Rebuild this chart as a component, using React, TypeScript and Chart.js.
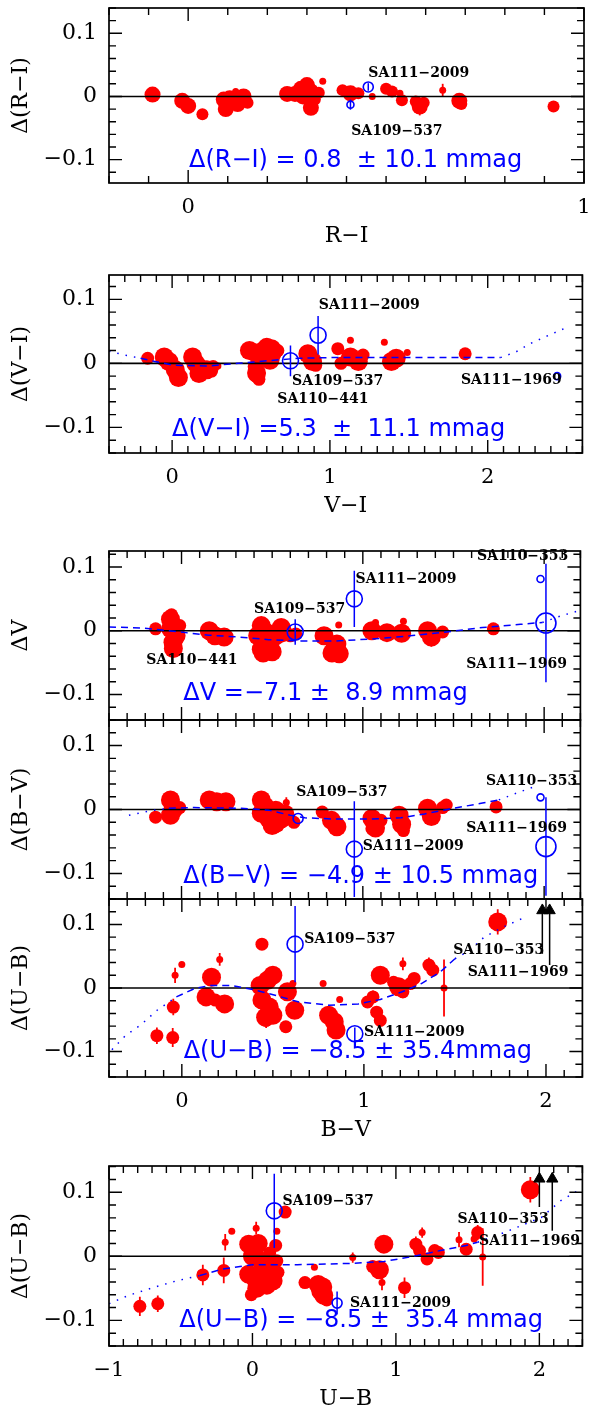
import React, { useEffect, useRef } from "react";
import { Chart, registerables } from "chart.js";

Chart.register(...registerables);

const W = 592;
const H = 1412;
const RED = "#ff0000";
const BLUE = "#0000ff";
const BLACK = "#000000";
const SERIF = "'DejaVu Serif', serif";
const SANS = "'DejaVu Sans', sans-serif";

// ---------- shared axis ticks ----------
const yTickVals = [-0.1, 0, 0.1];
const yTickLabels = ["\u22120.1", "0", "0.1"];

// ---------- Panel 1: Δ(R−I) vs R−I ----------
const riX = [-0.09, -0.015, 0.0, 0.036, 0.09, 0.095, 0.12, 0.125, 0.14, 0.15, 0.25, 0.27, 0.285, 0.3, 0.31, 0.32, 0.31, 0.33, 0.34, 0.39, 0.41, 0.43, 0.465, 0.5, 0.515, 0.535, 0.54, 0.575, 0.585, 0.595, 0.643, 0.685, 0.69, 0.923, 0.29, 0.3, 0.105];
const riY = [0.003, -0.007, -0.015, -0.028, -0.005, -0.02, 0.008, -0.012, 0.0, -0.01, 0.004, 0.004, 0.012, 0.018, 0.008, -0.005, -0.018, 0.006, 0.024, 0.01, 0.005, 0.005, 0.0, 0.012, 0.008, 0.005, -0.006, -0.008, -0.016, -0.01, 0.01, -0.007, -0.012, -0.016, 0.0, 0.01, -0.003];
const riSize = [3, 3, 3, 2, 3, 3, 1, 3, 3, 2, 3, 3, 3, 3, 3, 2, 3, 2, 1, 2, 3, 2, 1, 2, 2, 1, 2, 2, 3, 2, 1, 3, 2, 2, 3, 3, 3];
const riErr = [0, 0, 0, 0, 0, 0, 0, 0, 0, 0, 0, 0, 0, 0, 0, 0, 0, 0, 0, 0, 0, 0, 0, 0, 0, 0, 0, 0, 0.014, 0, 0.01, 0, 0, 0, 0, 0, 0];
const riStarX = [0.41, 0.455];
const riStarY = [-0.013, 0.015];
const riStarSize = [1, 2];
const riStarErr = [0.008, 0.006];
const riLabels = ["SA111\u22122009", "SA109\u2212537"];
const riLabelX = [0.455, 0.412];
const riLabelY = [0.036, -0.055];
const riStat = "\u0394(R\u2212I) = 0.8  \u00b1 10.1 mmag";

// ---------- Panel 2: Δ(V−I) vs V−I ----------
const viX = [-0.155, -0.05, -0.02, 0.02, 0.035, 0.13, 0.15, 0.18, 0.22, 0.26, 0.29, 0.49, 0.53, 0.56, 0.58, 0.63, 0.535, 0.53, 0.52, 0.65, 0.59, 0.86, 0.89, 0.91, 1.05, 1.07, 1.13, 1.13, 1.18, 1.21, 1.345, 1.39, 1.42, 1.49, 1.857, 0.6, 0.67, 0.55, 0.62, 0.04, 0.17, 0.25];
const viY = [0.008, 0.01, 0.003, -0.01, -0.016, 0.01, 0.0, -0.008, -0.01, -0.005, -0.004, 0.02, 0.016, 0.01, 0.02, 0.023, -0.015, -0.02, -0.005, 0.013, 0.012, 0.015, 0.003, -0.003, 0.023, 0.0, 0.036, 0.01, 0.003, 0.013, 0.033, 0.003, 0.008, 0.017, 0.015, 0.025, 0.02, -0.025, 0.005, -0.022, -0.016, -0.012];
const viSize = [2, 3, 3, 3, 2, 3, 3, 3, 3, 2, 1, 3, 3, 3, 3, 3, 3, 2, 2, 2, 2, 3, 3, 2, 2, 2, 1, 3, 3, 2, 1, 3, 3, 1, 2, 3, 2, 2, 3, 3, 3, 2];
const viErr = [0, 0, 0, 0, 0.01, 0, 0, 0, 0, 0, 0, 0, 0, 0, 0, 0, 0, 0, 0, 0, 0, 0, 0, 0, 0, 0, 0, 0, 0, 0, 0, 0, 0, 0, 0, 0, 0, 0, 0, 0, 0, 0];
const viStarX = [0.75, 0.925, 2.44];
const viStarY = [0.004, 0.044, -0.02];
const viStarSize = [3, 3, 1];
const viStarErr = [0.024, 0.03, 0];
const viFitLeftX = [-0.4, -0.3, -0.2];
const viFitLeftY = [0.019, 0.013, 0.008];
const viFitMidX = [-0.2, -0.11, 0.01, 0.23, 0.42, 0.6, 0.8, 1.0, 1.5, 2.08];
const viFitMidY = [0.008, 0.003, -0.003, -0.004, 0.0, 0.004, 0.008, 0.009, 0.009, 0.009];
const viFitRightX = [2.08, 2.18, 2.27, 2.37, 2.49];
const viFitRightY = [0.009, 0.018, 0.031, 0.042, 0.055];
const viLabels = ["SA111\u22122009", "SA109\u2212537", "SA110\u2212441", "SA111\u22121969"];
const viLabelX = [0.93, 0.76, 0.667, 1.83];
const viLabelY = [0.09, -0.028, -0.056, -0.026];
const viStat = "\u0394(V\u2212I) =5.3  \u00b1  11.1 mmag";

// ---------- Panel 3: ΔV vs B−V ----------
const vX = [-0.143, -0.061, -0.06, -0.03, -0.047, -0.01, 0.153, 0.184, 0.235, 0.44, 0.47, 0.44, 0.48, 0.52, 0.56, 0.6, 0.42, 0.786, 0.847, 0.857, 0.867, 1.05, 1.07, 1.133, 1.214, 1.224, 1.357, 1.378, 1.44, 1.72, 0.45, 0.5, 0.55, 0.63, 0.83, 0.87, -0.055, -0.045];
const vY = [0.003, 0.018, 0.003, -0.008, -0.018, 0.008, 0.0, -0.008, -0.01, 0.008, -0.003, -0.029, -0.023, -0.008, -0.003, -0.008, -0.008, -0.008, -0.026, -0.021, 0.009, 0.0, 0.013, -0.003, -0.004, 0.015, 0.0, -0.01, -0.002, 0.003, -0.035, -0.033, 0.005, -0.005, -0.035, -0.036, 0.025, -0.028];
const vSize = [2, 3, 3, 3, 3, 2, 3, 3, 3, 3, 3, 3, 3, 3, 3, 2, 3, 3, 3, 3, 1, 3, 1, 3, 3, 1, 3, 3, 2, 2, 3, 3, 3, 2, 3, 3, 2, 3];
const vErr = [0, 0.012, 0, 0, 0, 0, 0, 0, 0, 0, 0, 0, 0, 0, 0, 0, 0, 0, 0, 0, 0, 0, 0, 0, 0, 0, 0, 0.015, 0, 0, 0, 0, 0, 0, 0, 0, 0, 0];
const vStarX = [0.627, 0.953, 1.98, 2.01];
const vStarY = [-0.002, 0.05, 0.081, 0.012];
const vStarSize = [3, 3, 1, 4];
const vStarErr = [0.02, 0.044, 0, 0.093];
const vFitMidX = [-0.4, -0.21, -0.01, 0.15, 0.32, 0.48, 0.64, 0.85, 1.05, 1.26, 1.46, 1.66, 1.87, 1.99];
const vFitMidY = [0.006, 0.004, -0.002, -0.007, -0.01, -0.014, -0.016, -0.016, -0.013, -0.008, -0.002, 0.005, 0.01, 0.013];
const vFitRightX = [1.99, 2.09, 2.2];
const vFitRightY = [0.013, 0.023, 0.032];
const vLabels = ["SA110\u2212353", "SA111\u22122009", "SA109\u2212537", "SA110\u2212441", "SA111\u22121969"];
const vLabelX = [1.63, 0.96, 0.4, -0.194, 1.57];
const vLabelY = [0.116, 0.081, 0.034, -0.047, -0.052];
const vStat = "\u0394V =\u22127.1 \u00b1  8.9 mmag";

// ---------- Panel 4: Δ(B−V) vs B−V ----------
const bvX = [-0.143, -0.061, -0.047, -0.061, -0.01, 0.153, 0.194, 0.245, 0.44, 0.44, 0.48, 0.52, 0.52, 0.57, 0.578, 0.62, 0.776, 0.827, 0.857, 1.05, 1.07, 1.1, 1.2, 1.214, 1.224, 1.357, 1.378, 1.44, 1.46, 1.735, 0.5, 0.55, 1.05, 0.46];
const bvY = [-0.012, 0.015, -0.001, -0.009, 0.003, 0.015, 0.012, 0.012, 0.015, -0.006, -0.014, -0.022, -0.001, -0.007, 0.011, -0.02, -0.004, -0.017, -0.027, -0.014, -0.029, -0.017, -0.009, -0.023, -0.033, 0.002, -0.011, 0.003, 0.007, 0.004, -0.025, -0.015, -0.03, 0.005];
const bvSize = [2, 3, 3, 3, 2, 3, 3, 3, 3, 3, 3, 3, 3, 3, 1, 2, 2, 3, 3, 3, 3, 2, 3, 3, 2, 3, 3, 2, 2, 2, 3, 3, 2, 3];
const bvErr = [0, 0, 0, 0, 0, 0, 0, 0, 0, 0, 0, 0, 0, 0, 0.008, 0, 0, 0, 0, 0, 0, 0, 0, 0, 0.01, 0, 0, 0, 0, 0, 0, 0, 0, 0];
const bvStarX = [0.643, 0.953, 1.98, 2.01];
const bvStarY = [-0.014, -0.062, 0.019, -0.058];
const bvStarSize = [2, 3, 1, 4];
const bvStarErr = [0, 0.075, 0, 0.077];
const bvFitLeftX = [-0.29, -0.17, -0.07];
const bvFitLeftY = [-0.009, -0.002, 0.002];
const bvFitMidX = [-0.07, 0.07, 0.32, 0.48, 0.6, 0.68, 0.85, 1.05, 1.21, 1.34, 1.5, 1.66, 1.75];
const bvFitMidY = [0.002, 0.003, 0.002, -0.001, -0.009, -0.013, -0.015, -0.015, -0.013, -0.007, 0.002, 0.01, 0.015];
const bvFitRightX = [1.75, 1.87, 1.95];
const bvFitRightY = [0.015, 0.028, 0.036];
const bvLabels = ["SA109\u2212537", "SA110\u2212353", "SA111\u22121969", "SA111\u22122009"];
const bvLabelX = [0.633, 1.68, 1.57, 1.0];
const bvLabelY = [0.027, 0.044, -0.03, -0.057];
const bvStat = "\u0394(B\u2212V) = \u22124.9 \u00b1 10.5 mmag";

// ---------- Panel 5: Δ(U−B) vs B−V ----------
const ubX = [-0.047, -0.037, 0.0, -0.137, -0.05, 0.163, 0.208, 0.133, 0.184, 0.235, 0.44, 0.43, 0.47, 0.5, 0.44, 0.48, 0.46, 0.5, 0.463, 0.571, 0.58, 0.61, 0.62, 0.776, 0.806, 0.837, 0.847, 0.867, 1.02, 1.05, 1.07, 1.09, 1.09, 1.163, 1.19, 1.214, 1.214, 1.276, 1.255, 1.357, 1.378, 1.44, 1.735];
const ubY = [-0.03, 0.02, 0.037, -0.075, -0.078, 0.017, 0.045, -0.014, -0.019, -0.025, 0.069, 0.004, 0.012, 0.02, -0.019, -0.03, -0.046, -0.043, -0.051, -0.061, -0.006, 0.007, -0.035, 0.007, -0.043, -0.053, -0.066, -0.018, -0.022, -0.014, -0.038, -0.051, 0.02, 0.009, 0.002, -0.006, 0.038, 0.015, 0.007, 0.036, 0.028, 0.0, 0.104];
const ubSize = [2, 1, 1, 2, 2, 3, 1, 3, 2, 3, 2, 3, 3, 3, 3, 3, 3, 3, 2, 2, 3, 1, 3, 1, 3, 3, 3, 1, 2, 2, 2, 2, 3, 2, 3, 2, 1, 2, 2, 2, 2, 1, 3];
const ubErr = [0.013, 0.012, 0, 0.013, 0.015, 0, 0.01, 0.012, 0, 0, 0, 0, 0, 0, 0, 0, 0, 0, 0.012, 0, 0, 0, 0, 0, 0, 0, 0, 0, 0, 0.01, 0, 0, 0, 0, 0, 0.01, 0.01, 0, 0, 0.012, 0, 0.045, 0.02];
const ubStarX = [0.622, 0.95];
const ubStarY = [0.069, -0.072];
const ubStarSize = [3, 3];
const ubStarErr = [0.06, 0.01];
const ubArrowX = [1.98, 2.02];
const ubArrowTop = [0.122, 0.122];
const ubArrowBottom = [0.054, 0.036];
const ubFitLeftX = [-0.384, -0.31, -0.221, -0.136, -0.03];
const ubFitLeftY = [-0.097, -0.075, -0.057, -0.035, -0.014];
const ubFitMidX = [-0.03, 0.07, 0.153, 0.275, 0.4, 0.52, 0.643, 0.806, 0.97, 1.09, 1.21, 1.316, 1.418, 1.5];
const ubFitMidY = [-0.014, -0.001, 0.004, 0.004, -0.003, -0.012, -0.022, -0.027, -0.025, -0.018, -0.006, 0.007, 0.025, 0.046];
const ubFitRightX = [1.5, 1.58, 1.66, 1.765, 1.867];
const ubFitRightY = [0.046, 0.059, 0.08, 0.096, 0.109];
const ubLabels = ["SA109\u2212537", "SA110\u2212353", "SA111\u22121969", "SA111\u22122009"];
const ubLabelX = [0.673, 1.49, 1.57, 1.0];
const ubLabelY = [0.076, 0.059, 0.025, -0.069];
const ubStat = "\u0394(U\u2212B) = \u22128.5 \u00b1 35.4mmag";

// ---------- Panel 6: Δ(U−B) vs U−B ----------
const uuX = [-0.785, -0.66, -0.346, -0.2, -0.19, -0.144, 0.026, -0.026, 0.005, 0.026, 0.065, -0.026, 0.013, 0.052, -0.008, 0.11, 0.144, 0.178, 0.162, 0.17, 0.17, 0.228, 0.432, 0.366, 0.458, 0.476, 0.497, 0.518, 0.699, 0.838, 0.885, 0.903, 0.916, 1.06, 1.139, 1.165, 1.183, 1.217, 1.27, 1.296, 1.44, 1.49, 1.57, 1.545, 1.605, 1.937, 0.0, 0.04, 0.1, 0.03, 0.12, 0.49];
const uuY = [-0.078, -0.074, -0.029, -0.022, 0.022, 0.039, 0.044, 0.019, 0.009, -0.002, -0.009, -0.028, -0.033, -0.041, -0.06, -0.017, -0.038, -0.025, 0.017, -0.007, 0.039, 0.069, -0.017, -0.041, -0.044, -0.054, -0.061, -0.068, -0.002, -0.016, -0.021, -0.041, 0.019, -0.049, 0.019, 0.009, 0.037, -0.004, 0.009, 0.006, 0.026, 0.011, 0.037, 0.027, -0.001, 0.104, 0.0, 0.02, -0.045, -0.05, 0.005, -0.048];
const uuSize = [2, 2, 2, 2, 1, 1, 1, 3, 3, 3, 3, 3, 3, 3, 2, 3, 3, 2, 2, 2, 1, 2, 1, 2, 3, 3, 3, 2, 1, 2, 3, 1, 3, 2, 2, 2, 1, 2, 2, 2, 1, 2, 2, 1, 1, 3, 3, 3, 3, 3, 2, 3];
const uuErr = [0.015, 0.013, 0.016, 0.02, 0.013, 0, 0.01, 0, 0, 0, 0, 0, 0, 0, 0, 0, 0, 0, 0, 0, 0, 0, 0, 0, 0, 0, 0, 0, 0.008, 0, 0, 0.012, 0, 0.016, 0.012, 0, 0.008, 0, 0, 0, 0.012, 0, 0.012, 0, 0.045, 0.02, 0, 0, 0, 0, 0, 0];
const uuStarX = [0.152, 0.59];
const uuStarY = [0.071, -0.073];
const uuStarSize = [3, 2];
const uuStarErr = [0.058, 0.018];
const uuArrowX = [2.0, 2.09];
const uuArrowTop = [0.121, 0.121];
const uuArrowBottom = [0.077, 0.04];
const uuFitLeftX = [-1.0, -0.864, -0.68, -0.524, -0.366];
const uuFitLeftY = [-0.074, -0.061, -0.048, -0.038, -0.03];
const uuFitMidX = [-0.366, -0.21, 0.0, 0.314, 0.707, 0.916, 1.1, 1.31, 1.49, 1.57];
const uuFitMidY = [-0.03, -0.02, -0.013, -0.013, -0.011, -0.008, -0.001, 0.009, 0.017, 0.022];
const uuFitRightX = [1.57, 1.754, 2.016, 2.15, 2.28];
const uuFitRightY = [0.022, 0.037, 0.061, 0.087, 0.104];
const uuLabels = ["SA109\u2212537", "SA110\u2212353", "SA111\u22121969", "SA111\u22122009"];
const uuLabelX = [0.21, 1.43, 1.58, 0.68];
const uuLabelY = [0.086, 0.057, 0.024, -0.073];
const uuStat = "\u0394(U\u2212B) = \u22128.5 \u00b1  35.4 mmag";

// ---------- panel assembly ----------
type Fit = { x: number[]; y: number[]; dash: number[] };
type Panel = {
  id: string;
  top: number; bottom: number; xAxisH: number;
  xMin: number; xMax: number; yMin: number; yMax: number;
  xTicks: number[]; xTickLabels: string[]; xTitle: string; yTitle: string;
  redX: number[]; redY: number[]; redSize: number[]; redErr: number[];
  radii: number[];
  starX: number[]; starY: number[]; starSize: number[]; starErr: number[];
  arrowX: number[]; arrowTop: number[]; arrowBottom: number[];
  fits: Fit[];
  labels: string[]; labelX: number[]; labelY: number[];
  stat: string; statX: number; statY: number;
};

const DASH = [7, 5];
const DOT = [1.5, 7];
const RADII = [0, 3.5, 6.5, 9.5];
const STAR_R = [0, 3.5, 5, 8, 10];

const PANELS: Panel[] = [
  {
    id: "ri", top: 6, bottom: 183, xAxisH: 72,
    xMin: -0.2, xMax: 1.0, yMin: -0.137, yMax: 0.14,
    xTicks: [0, 1], xTickLabels: ["0", "1"], xTitle: "R\u2212I", yTitle: "\u0394(R\u2212I)",
    redX: riX, redY: riY, redSize: riSize, redErr: riErr, radii: [0, 3.5, 6, 8],
    starX: riStarX, starY: riStarY, starSize: riStarSize, starErr: riStarErr,
    arrowX: [], arrowTop: [], arrowBottom: [],
    fits: [],
    labels: riLabels, labelX: riLabelX, labelY: riLabelY,
    stat: riStat, statX: 0.002, statY: -0.1016,
  },
  {
    id: "vi", top: 275, bottom: 453, xAxisH: 72,
    xMin: -0.4, xMax: 2.6, yMin: -0.14, yMax: 0.138,
    xTicks: [0, 1, 2], xTickLabels: ["0", "1", "2"], xTitle: "V\u2212I", yTitle: "\u0394(V\u2212I)",
    redX: viX, redY: viY, redSize: viSize, redErr: viErr, radii: RADII,
    starX: viStarX, starY: viStarY, starSize: viStarSize, starErr: viStarErr,
    arrowX: [], arrowTop: [], arrowBottom: [],
    fits: [
      { x: viFitLeftX, y: viFitLeftY, dash: DOT },
      { x: viFitMidX, y: viFitMidY, dash: DASH },
      { x: viFitRightX, y: viFitRightY, dash: DOT },
    ],
    labels: viLabels, labelX: viLabelX, labelY: viLabelY,
    stat: viStat, statX: 0.0, statY: -0.103,
  },
  {
    id: "v", top: 551, bottom: 720, xAxisH: 0,
    xMin: -0.4, xMax: 2.2, yMin: -0.14, yMax: 0.125,
    xTicks: [], xTickLabels: [], xTitle: "", yTitle: "\u0394V",
    redX: vX, redY: vY, redSize: vSize, redErr: vErr, radii: RADII,
    starX: vStarX, starY: vStarY, starSize: vStarSize, starErr: vStarErr,
    arrowX: [], arrowTop: [], arrowBottom: [],
    fits: [
      { x: vFitMidX, y: vFitMidY, dash: DASH },
      { x: vFitRightX, y: vFitRightY, dash: DOT },
    ],
    labels: vLabels, labelX: vLabelX, labelY: vLabelY,
    stat: vStat, statX: 0.01, statY: -0.099,
  },
  {
    id: "bv", top: 720, bottom: 899, xAxisH: 0,
    xMin: -0.4, xMax: 2.2, yMin: -0.14, yMax: 0.14,
    xTicks: [], xTickLabels: [], xTitle: "", yTitle: "\u0394(B\u2212V)",
    redX: bvX, redY: bvY, redSize: bvSize, redErr: bvErr, radii: RADII,
    starX: bvStarX, starY: bvStarY, starSize: bvStarSize, starErr: bvStarErr,
    arrowX: [], arrowTop: [], arrowBottom: [],
    fits: [
      { x: bvFitLeftX, y: bvFitLeftY, dash: DOT },
      { x: bvFitMidX, y: bvFitMidY, dash: DASH },
      { x: bvFitRightX, y: bvFitRightY, dash: DOT },
    ],
    labels: bvLabels, labelX: bvLabelX, labelY: bvLabelY,
    stat: bvStat, statX: 0.01, statY: -0.105,
  },
  {
    id: "ub", top: 899, bottom: 1077, xAxisH: 72,
    xMin: -0.4, xMax: 2.2, yMin: -0.14, yMax: 0.14,
    xTicks: [0, 1, 2], xTickLabels: ["0", "1", "2"], xTitle: "B\u2212V", yTitle: "\u0394(U\u2212B)",
    redX: ubX, redY: ubY, redSize: ubSize, redErr: ubErr, radii: RADII,
    starX: ubStarX, starY: ubStarY, starSize: ubStarSize, starErr: ubStarErr,
    arrowX: ubArrowX, arrowTop: ubArrowTop, arrowBottom: ubArrowBottom,
    fits: [
      { x: ubFitLeftX, y: ubFitLeftY, dash: DOT },
      { x: ubFitMidX, y: ubFitMidY, dash: DASH },
      { x: ubFitRightX, y: ubFitRightY, dash: DOT },
    ],
    labels: ubLabels, labelX: ubLabelX, labelY: ubLabelY,
    stat: ubStat, statX: 0.01, statY: -0.1,
  },
  {
    id: "uu", top: 1166, bottom: 1346, xAxisH: 66,
    xMin: -1.0, xMax: 2.3, yMin: -0.14, yMax: 0.141,
    xTicks: [-1, 0, 1, 2], xTickLabels: ["\u22121", "0", "1", "2"], xTitle: "U\u2212B", yTitle: "\u0394(U\u2212B)",
    redX: uuX, redY: uuY, redSize: uuSize, redErr: uuErr, radii: RADII,
    starX: uuStarX, starY: uuStarY, starSize: uuStarSize, starErr: uuStarErr,
    arrowX: uuArrowX, arrowTop: uuArrowTop, arrowBottom: uuArrowBottom,
    fits: [
      { x: uuFitLeftX, y: uuFitLeftY, dash: DOT },
      { x: uuFitMidX, y: uuFitMidY, dash: DASH },
      { x: uuFitRightX, y: uuFitRightY, dash: DOT },
    ],
    labels: uuLabels, labelX: uuLabelX, labelY: uuLabelY,
    stat: uuStat, statX: -0.51, statY: -0.1,
  },
];

function stepValues(min: number, max: number, step: number) {
  const out: number[] = [];
  const k0 = Math.ceil(min / step - 1e-6);
  const k1 = Math.floor(max / step + 1e-6);
  for (let k = k0; k <= k1; k++) out.push(k * step);
  return out;
}
const isMajor = (v: number, major: number) => Math.abs(v / major - Math.round(v / major)) < 1e-6;

function decorPlugin(p: Panel) {
  return {
    id: "decor",
    beforeDatasetsDraw(chart: any) {
      const { ctx, chartArea: a, scales } = chart;
      const xs = scales.x, ys = scales.y;
      ctx.save();
      ctx.beginPath();
      ctx.rect(a.left, a.top, a.right - a.left, a.bottom - a.top);
      ctx.clip();
      ctx.strokeStyle = RED;
      ctx.lineWidth = 1.8;
      p.redX.forEach((xv, i) => {
        const e = p.redErr[i] || 0;
        if (!e) return;
        const px = xs.getPixelForValue(xv);
        ctx.beginPath();
        ctx.moveTo(px, ys.getPixelForValue(p.redY[i] - e));
        ctx.lineTo(px, ys.getPixelForValue(p.redY[i] + e));
        ctx.stroke();
      });
      ctx.restore();
    },
    afterDatasetsDraw(chart: any) {
      const { ctx, chartArea: a, scales } = chart;
      const xs = scales.x, ys = scales.y;
      ctx.save();
      ctx.beginPath();
      ctx.rect(a.left, a.top, a.right - a.left, a.bottom - a.top);
      ctx.clip();
      ctx.strokeStyle = BLUE;
      ctx.lineWidth = 1.5;
      p.starX.forEach((xv, i) => {
        const e = p.starErr[i] || 0;
        if (!e) return;
        const px = xs.getPixelForValue(xv);
        ctx.beginPath();
        ctx.moveTo(px, ys.getPixelForValue(p.starY[i] - e));
        ctx.lineTo(px, ys.getPixelForValue(p.starY[i] + e));
        ctx.stroke();
      });
      ctx.strokeStyle = BLACK;
      ctx.lineWidth = 1.5;
      p.arrowX.forEach((xv, i) => {
        const px = xs.getPixelForValue(xv);
        ctx.beginPath();
        ctx.moveTo(px, ys.getPixelForValue(p.arrowTop[i]));
        ctx.lineTo(px, ys.getPixelForValue(p.arrowBottom[i]));
        ctx.stroke();
      });
      ctx.restore();
    },
    afterDraw(chart: any) {
      const { ctx, chartArea: a, scales } = chart;
      const xs = scales.x, ys = scales.y;
      ctx.save();
      ctx.strokeStyle = BLACK;
      ctx.lineWidth = 1.7;
      ctx.strokeRect(a.left, a.top, a.right - a.left, a.bottom - a.top);
      const MAJ = 13, MIN = 7;
      ctx.lineWidth = 1.4;
      ctx.beginPath();
      stepValues(p.xMin, p.xMax, 0.1).forEach((v) => {
        const px = xs.getPixelForValue(v);
        const L = isMajor(v, 1) ? MAJ : MIN;
        ctx.moveTo(px, a.bottom); ctx.lineTo(px, a.bottom - L);
        ctx.moveTo(px, a.top); ctx.lineTo(px, a.top + L);
      });
      stepValues(p.yMin, p.yMax, 0.02).forEach((v) => {
        const py = ys.getPixelForValue(v);
        const L = isMajor(v, 0.1) ? MAJ : MIN;
        ctx.moveTo(a.left, py); ctx.lineTo(a.left + L, py);
        ctx.moveTo(a.right, py); ctx.lineTo(a.right - L, py);
      });
      ctx.stroke();
      // star labels
      ctx.fillStyle = BLACK;
      ctx.font = `bold 14px ${SERIF}`;
      ctx.textAlign = "left";
      ctx.textBaseline = "middle";
      p.labels.forEach((t, i) => {
        ctx.fillText(t, xs.getPixelForValue(p.labelX[i]), ys.getPixelForValue(p.labelY[i]));
      });
      // statistic
      ctx.fillStyle = BLUE;
      ctx.font = `24px ${SANS}`;
      ctx.fillText(p.stat, xs.getPixelForValue(p.statX), ys.getPixelForValue(p.statY));
      ctx.restore();
    },
  };
}

function buildConfig(p: Panel): any {
  const pts = (xs: number[], ys: number[]) => xs.map((x, i) => ({ x, y: ys[i] }));
  const datasets: any[] = [];
  datasets.push({
    data: pts(p.starX, p.starY),
    pointRadius: p.starSize.map((s) => STAR_R[s]),
    pointStyle: "circle",
    pointBackgroundColor: "rgba(0,0,0,0)",
    backgroundColor: "rgba(0,0,0,0)",
    pointBorderColor: BLUE,
    borderColor: BLUE,
    pointBorderWidth: 1.6,
    showLine: false,
  });
  datasets.push({
    data: pts(p.arrowX, p.arrowTop),
    pointStyle: "triangle",
    pointRadius: 6.5,
    pointBackgroundColor: BLACK,
    backgroundColor: BLACK,
    pointBorderColor: BLACK,
    borderColor: BLACK,
    pointBorderWidth: 1,
    showLine: false,
  });
  p.fits.forEach((f) => {
    datasets.push({
      data: pts(f.x, f.y),
      showLine: true,
      pointRadius: 0,
      borderColor: BLUE,
      borderWidth: 1.5,
      borderDash: f.dash,
      fill: false,
      tension: 0,
    });
  });
  datasets.push({
    data: [{ x: p.xMin, y: 0 }, { x: p.xMax, y: 0 }],
    showLine: true,
    pointRadius: 0,
    borderColor: BLACK,
    borderWidth: 1.6,
    fill: false,
  });
  datasets.push({
    data: pts(p.redX, p.redY),
    pointRadius: p.redSize.map((s) => p.radii[s]),
    pointStyle: "circle",
    pointBackgroundColor: RED,
    backgroundColor: RED,
    pointBorderColor: RED,
    borderColor: RED,
    pointBorderWidth: 0,
    showLine: false,
  });

  const hasX = p.xAxisH > 0;
  return {
    type: "scatter",
    data: { datasets },
    options: {
      animation: false,
      responsive: false,
      maintainAspectRatio: false,
      devicePixelRatio: 1,
      events: [],
      layout: { padding: { top: p.top, bottom: H - p.bottom - p.xAxisH, left: 0, right: 3 } },
      plugins: { legend: { display: false }, tooltip: { enabled: false } },
      scales: {
        x: {
          type: "linear",
          position: "bottom",
          min: p.xMin,
          max: p.xMax,
          afterBuildTicks: (s: any) => { s.ticks = p.xTicks.map((v) => ({ value: v })); },
          afterFit: (s: any) => {
            s.height = p.xAxisH;
            s.paddingLeft = 0; s.paddingRight = 0; s.paddingTop = 0; s.paddingBottom = 0;
          },
          ticks: {
            display: hasX,
            autoSkip: false,
            maxRotation: 0,
            minRotation: 0,
            padding: 12,
            color: BLACK,
            font: { family: SERIF, size: 21 },
            callback: (_v: any, i: number) => p.xTickLabels[i],
          },
          grid: { display: false, drawTicks: false },
          border: { display: false },
          title: {
            display: hasX,
            text: p.xTitle,
            color: BLACK,
            font: { family: SERIF, size: 22 },
            padding: { top: 0, bottom: Math.max(0, p.xAxisH - 53 - 13.2) },
          },
        },
        y: {
          type: "linear",
          position: "left",
          min: p.yMin,
          max: p.yMax,
          afterBuildTicks: (s: any) => { s.ticks = yTickVals.map((v) => ({ value: v })); },
          afterFit: (s: any) => {
            s.width = 109;
            s.paddingLeft = 0; s.paddingRight = 0; s.paddingTop = 0; s.paddingBottom = 0;
          },
          ticks: {
            autoSkip: false,
            padding: 12,
            color: BLACK,
            font: { family: SERIF, size: 22 },
            callback: (_v: any, i: number) => yTickLabels[i],
          },
          grid: { display: false, drawTicks: false },
          border: { display: false },
          title: {
            display: true,
            text: p.yTitle,
            color: BLACK,
            font: { family: SERIF, size: 22 },
            padding: { top: 8, bottom: 0 },
          },
        },
      },
    },
    plugins: [decorPlugin(p)],
  };
}

function PanelChart({ p }: { p: Panel }) {
  const ref = useRef<HTMLCanvasElement>(null);
  useEffect(() => {
    if (!ref.current) return;
    const chart = new Chart(ref.current, buildConfig(p));
    return () => chart.destroy();
  }, [p]);
  return (
    <canvas
      ref={ref}
      width={W}
      height={H}
      style={{ position: "absolute", left: 0, top: 0, width: W, height: H }}
    />
  );
}

export default function App() {
  return (
    <div style={{ position: "absolute", left: 0, top: 0, width: W, height: H, background: "#ffffff", overflow: "hidden" }}>
      {PANELS.map((p) => (
        <PanelChart key={p.id} p={p} />
      ))}
    </div>
  );
}
